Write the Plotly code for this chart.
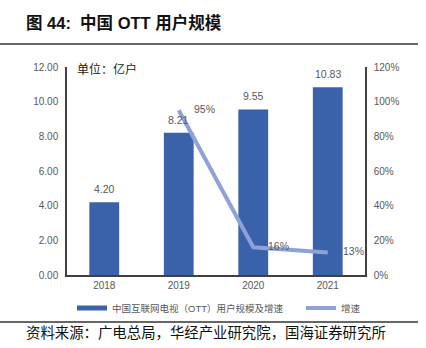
import plotly.graph_objects as go

years = ["2018", "2019", "2020", "2021"]
users = [4.20, 8.21, 9.55, 10.83]
growth_years = ["2019", "2020", "2021"]
growth = [0.95, 0.16, 0.13]
growth_labels = ["95%", "16%", "13%"]

BAR = "#3A62AA"
LINE = "#8FA2D8"
AX = "#404040"
TXT = "#595959"
FONT = "Liberation Sans, Arial, Noto Sans CJK SC"

L, R, T, B = 67, 61, 67, 73
W, H = 426, 348
pw, ph = W - L - R, H - T - B

def px(x):
    return (x - L) / pw

def py(y):
    return (H - B - y) / ph

fig = go.Figure()
fig.add_trace(go.Bar(x=years, y=users, marker=dict(color=BAR, line=dict(width=0)),
                     width=0.4, showlegend=False, hoverinfo="skip"))
# legend entry for bars
fig.add_trace(go.Scatter(x=[years[0]], y=[None], mode="lines", name="中国互联网电视（OTT）用户规模及增速",
                         line=dict(color=BAR, width=5), legend="legend", hoverinfo="skip"))
fig.add_trace(go.Scatter(x=growth_years, y=growth, mode="lines", name="增速", yaxis="y2",
                         line=dict(color=LINE, width=4), legend="legend2"))

anns = []
for x, v in zip(years, users):
    anns.append(dict(x=years.index(x), y=v, xref="x", yref="y", text=f"{v:.2f}", showarrow=False,
                     yanchor="bottom", yshift=5, font=dict(size=10.5, color=TXT, family=FONT)))
for x, v, t in zip(growth_years, growth, growth_labels):
    anns.append(dict(x=years.index(x), y=v, xref="x", yref="y2", text=t, showarrow=False,
                     xanchor="left", xshift=13, yshift=1, font=dict(size=10.5, color=TXT, family=FONT)))
anns.append(dict(x=px(75), y=py(69), xref="paper", yref="paper", text="单位：亿户", showarrow=False,
                 xanchor="left", yanchor="middle", font=dict(size=12, color="#222", family=FONT)))
anns.append(dict(x=px(24), y=py(22), xref="paper", yref="paper",
                 text="<b>图 44:  中国 OTT 用户规模</b>", showarrow=False,
                 xanchor="left", yanchor="middle", font=dict(size=16.5, color="#111", family=FONT)))
anns.append(dict(x=px(24), y=py(333), xref="paper", yref="paper",
                 text="资料来源：广电总局，华经产业研究院，国海证券研究所", showarrow=False,
                 xanchor="left", yanchor="middle", font=dict(size=14.4, color="#111", family=FONT)))

shapes = [
    dict(type="line", xref="paper", yref="paper", x0=px(0), x1=px(418), y0=py(44), y1=py(44),
         line=dict(color="#333", width=1.5)),
    dict(type="line", xref="paper", yref="paper", x0=px(0), x1=px(418), y0=py(322), y1=py(322),
         line=dict(color="#333", width=1.5)),
]

fig.update_layout(
    width=W, height=H, margin=dict(l=L, r=R, t=T, b=B),
    paper_bgcolor="white", plot_bgcolor="white",
    font=dict(family=FONT, color=TXT, size=10),
    bargap=0.6,
    xaxis=dict(type="category", categoryorder="array", categoryarray=years, range=[-0.5, 3.5],
               showline=True, linecolor=AX, linewidth=1.5, showgrid=False,
               ticks="", tickfont=dict(size=10, color=TXT), fixedrange=True),
    yaxis=dict(range=[0, 12], dtick=2, tickformat=".2f", showline=True, linecolor=AX, linewidth=1.5,
               showgrid=False, zeroline=False, ticks="", ticklabelstandoff=5,
               tickfont=dict(size=10, color=TXT)),
    yaxis2=dict(range=[0, 1.2], dtick=0.2, tickformat=".0%", overlaying="y", side="right",
                showline=True, linecolor=AX, linewidth=1.5, showgrid=False, zeroline=False,
                ticks="", ticklabelstandoff=5, tickfont=dict(size=10, color=TXT)),
    legend=dict(x=px(72), y=py(308), xanchor="left", yanchor="middle", orientation="h",
                font=dict(size=9.5, color=TXT, family=FONT), bgcolor="rgba(0,0,0,0)"),
    legend2=dict(x=px(301), y=py(308), xanchor="left", yanchor="middle", orientation="h",
                 font=dict(size=9.5, color=TXT, family=FONT), bgcolor="rgba(0,0,0,0)"),
    annotations=anns, shapes=shapes,
)

fig.write_html("out.html")
